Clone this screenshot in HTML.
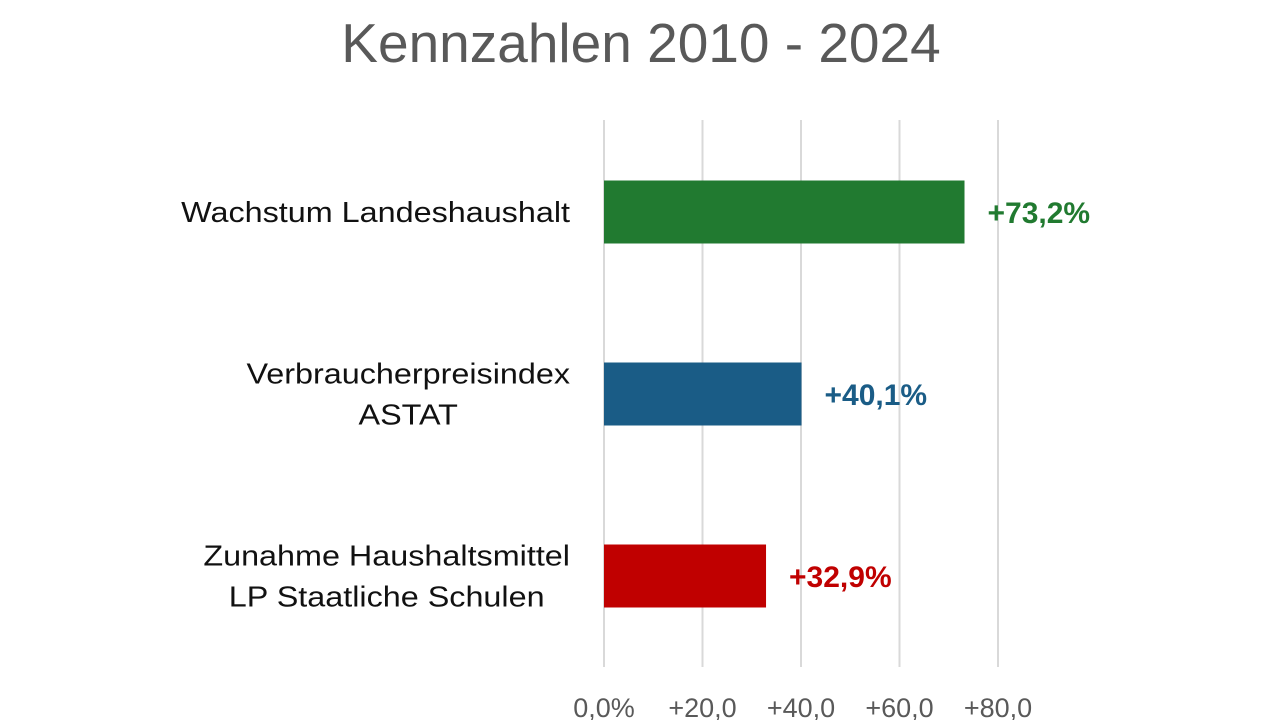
<!DOCTYPE html>
<html><head><meta charset="utf-8"><style>
html,body{margin:0;padding:0;background:#fff;width:1280px;height:720px;overflow:hidden}
svg{display:block}
</style></head><body>
<svg width="1280" height="720">
<text x="641" y="62" text-anchor="middle" font-family="Liberation Sans, sans-serif" font-size="55" fill="#595959">Kennzahlen 2010 - 2024</text>
<g id="grid"></g><g id="bars"></g><g id="labels"></g>
</svg>
<script>
const categories=[["Wachstum Landeshaushalt"],["Verbraucherpreisindex","ASTAT"],["Zunahme Haushaltsmittel","LP Staatliche Schulen"]];
const values=[73.2,40.1,32.9];
const valueLabels=["+73,2%","+40,1%","+32,9%"];
const colors=["#217a30","#1a5c86","#c00000"];
const ticks=[0,20,40,60,80];
const tickLabels=["0,0%","+20,0","+40,0","+60,0","+80,0"];
const NS="http://www.w3.org/2000/svg";
const x0=604,scale=(998-604)/80;
const xs=v=>x0+v*scale;
const bandTop=120,bandH=(666-120)/3,barH=63;
function mk(t,a,p){const e=document.createElementNS(NS,t);for(const k in a)e.setAttribute(k,a[k]);p.appendChild(e);return e;}
const grid=document.getElementById('grid'),bars=document.getElementById('bars'),labels=document.getElementById('labels');
ticks.forEach((t,i)=>{
 const l=mk('line',{x1:xs(t),x2:xs(t),y1:120,y2:667,stroke:'#d9d9d9','stroke-width':2},grid);
 
 
 const tx=mk('text',{x:xs(t),y:717,'text-anchor':'middle','font-family':'Liberation Sans, sans-serif','font-size':27,fill:'#595959'},grid);
 tx.textContent=tickLabels[i];
 
 
});
values.forEach((v,i)=>{
 const c=212+bandH*i;
 const r=mk('rect',{x:x0,y:c-barH/2,width:xs(v)-x0,height:barH,fill:colors[i]},bars);
 
 
 const vt=mk('text',{x:xs(v)+23,y:c+11,'font-family':'Liberation Sans, sans-serif','font-size':30,'font-weight':'bold',fill:colors[i]},labels);
 vt.textContent=valueLabels[i];
 
 
 const lines=categories[i];
 const els=lines.map((s,j)=>{
  const ct=mk('text',{x:0,y:c+10+(j-(lines.length-1)/2)*41,'text-anchor':'middle','font-family':'Liberation Sans, sans-serif','font-size':29,fill:'#111'},labels);
  ct.textContent=s;
  
  
  return ct;
 });
 const ws=els.map(e=>e.getComputedTextLength()*1.115);
 const mx=Math.max(...ws);
 els.forEach((e,j)=>{e.setAttribute('textLength',ws[j]);e.setAttribute('lengthAdjust','spacingAndGlyphs');e.setAttribute('x',570-mx/2);});
});
</script>
</body></html>
